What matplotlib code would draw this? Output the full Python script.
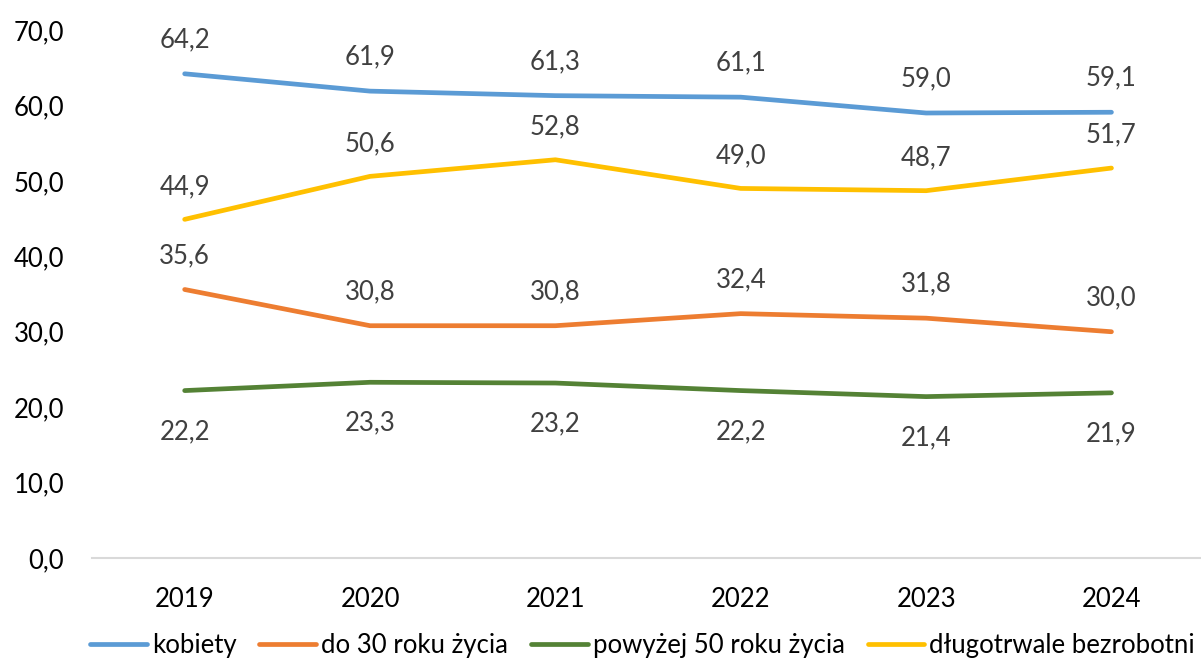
import matplotlib
matplotlib.use('Agg')
import matplotlib.pyplot as plt

# dane
lata = ['2019', '2020', '2021', '2022', '2023', '2024']
kobiety = [64.2, 61.9, 61.3, 61.1, 59.0, 59.1]
do_30 = [35.6, 30.8, 30.8, 32.4, 31.8, 30.0]
powyzej_50 = [22.2, 23.3, 23.2, 22.2, 21.4, 21.9]
dlugotrwale = [44.9, 50.6, 52.8, 49.0, 48.7, 51.7]
y_ticks = [0, 10, 20, 30, 40, 50, 60, 70]

plt.rcParams['font.family'] = ['Lato', 'DejaVu Sans']
FS = 18.5

fig = plt.figure(figsize=(12.01, 6.60), dpi=100)
ax = fig.add_axes([0.0766, 0.1545, 0.926, 0.80])

x = list(range(len(lata)))
serie = [
    ('kobiety', kobiety, '#5B9BD5', 34),
    ('do 30 roku życia', do_30, '#ED7D31', 34),
    ('powyżej 50 roku życia', powyzej_50, '#548235', -41),
    ('długotrwale bezrobotni', dlugotrwale, '#FFC000', 33),
]
for nazwa, vals, kolor, off in serie:
    ax.plot(x, vals, color=kolor, lw=3.4, label=nazwa, solid_capstyle='round')
    for xi, v in zip(x, vals):
        ax.annotate(f'{v:.1f}'.replace('.', ','), (xi, v), xytext=(0, off),
                    textcoords='offset pixels', ha='center', va='center',
                    fontsize=FS, color='#404040')

ax.set_xlim(-0.5, 5.5)
ax.set_ylim(0, 70)
ax.set_xticks(x)
ax.set_xticklabels(lata)
ax.set_yticks(y_ticks)
ax.set_yticklabels([f'{t:.1f}'.replace('.', ',') for t in y_ticks])
ax.tick_params(axis='both', length=0, labelsize=FS, colors='black')
ax.tick_params(axis='x', pad=21)
ax.tick_params(axis='y', pad=20)
for s in ['top', 'right', 'left']:
    ax.spines[s].set_visible(False)
ax.spines['bottom'].set_color('#d9d9d9')
ax.spines['bottom'].set_linewidth(1.5)

fig.legend(loc='center', bbox_to_anchor=(0.535, 0.022), ncol=4, frameon=False,
           fontsize=FS, handlelength=2.2, handletextpad=0.2, columnspacing=0.9,
           borderaxespad=0, borderpad=0)

plt.savefig('out.png', dpi=100)
plt.close()
